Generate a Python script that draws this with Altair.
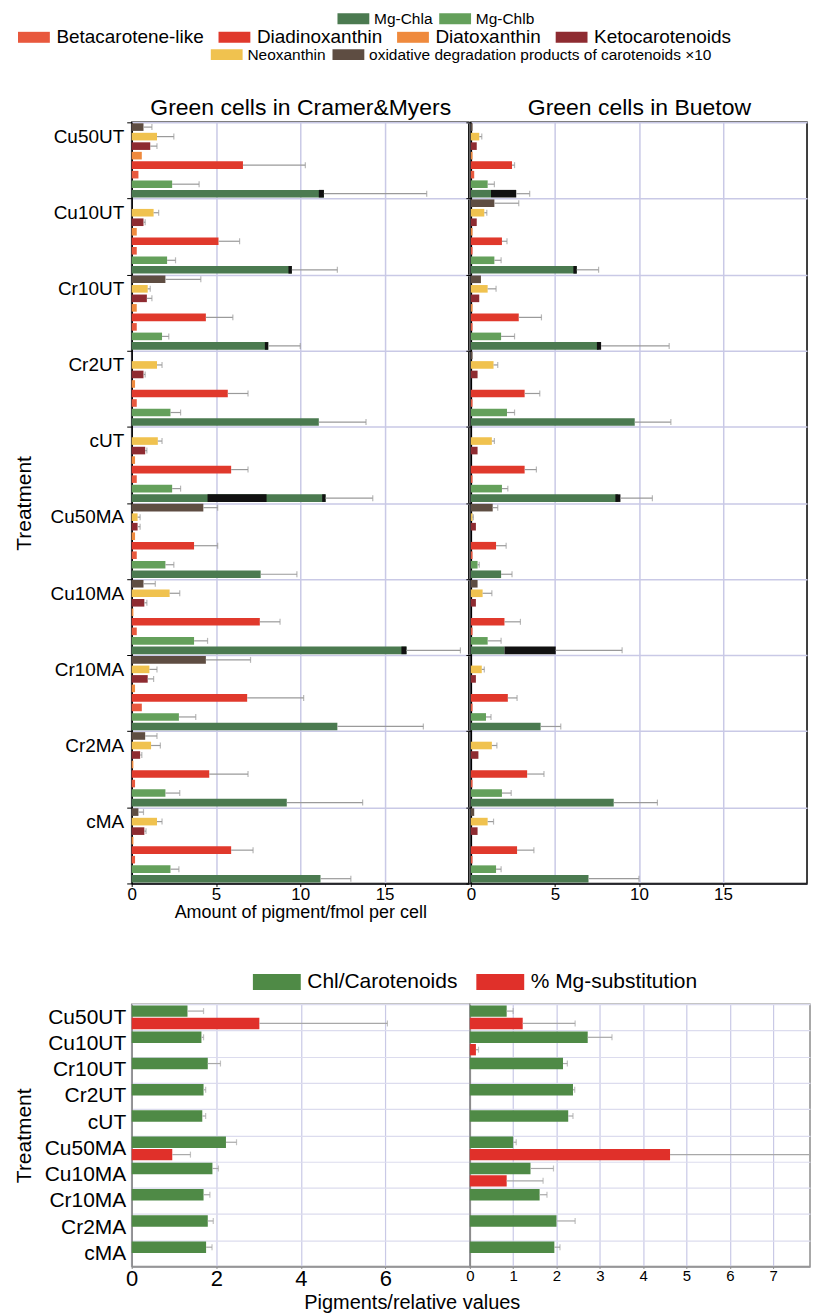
import altair as alt
import pandas as pd

FONT = "Liberation Sans"
GRID = "#c9c9e6"

treatments = ["Cu50UT", "Cu10UT", "Cr10UT", "Cr2UT", "cUT",
              "Cu50MA", "Cu10MA", "Cr10MA", "Cr2MA", "cMA"]

OXID = "oxidative degradation products of carotenoids ×10"
pigments = [OXID, "Neoxanthin", "Ketocarotenoids", "Diatoxanthin",
            "Diadinoxanthin", "Betacarotene-like", "Mg-Chlb", "Mg-Chla"]
pigment_colors = ["#5e4d42", "#f0c24f", "#8e2b31", "#ef8a3d",
                  "#e0392c", "#e8583d", "#64a05b", "#4b7a50"]

# ---- Green cells in Cramer&Myers (fmol per cell) ----
cm_chla = [11.4, 9.5, 8.1, 11.1, 11.5, 7.65, 16.3, 12.2, 9.2, 11.2]
cm_chla_err = [17.5, 12.2, 10.0, 13.9, 14.3, 9.8, 19.5, 17.3, 13.7, 13.0]
cm_chlb = [2.4, 2.1, 1.8, 2.3, 2.4, 2.0, 3.7, 2.8, 2.0, 2.3]
cm_chlb_err = [4.0, 2.6, 2.2, 2.9, 2.9, 2.5, 4.5, 3.8, 2.85, 2.8]
cm_diadino = [6.6, 5.15, 4.4, 5.7, 5.9, 3.7, 7.6, 6.85, 4.6, 5.9]
cm_diadino_err = [10.3, 6.4, 6.0, 6.9, 6.9, 5.1, 8.8, 10.2, 6.9, 7.2]
cm_beta = [0.4, 0.3, 0.3, 0.3, 0.3, 0.3, 0.3, 0.6, 0.2, 0.2]
cm_diato = [0.6, 0.3, 0.3, 0.2, 0.2, 0.2, 0.1, 0.2, 0.1, 0.1]
cm_keto = [1.1, 0.7, 0.9, 0.7, 0.8, 0.35, 0.75, 0.95, 0.5, 0.75]
cm_keto_err = [1.5, 0.8, 1.2, 0.8, 0.9, 0.5, 0.9, 1.3, 0.6, 0.85]
cm_neox = [1.5, 1.3, 0.95, 1.5, 1.55, 0.35, 2.25, 1.05, 1.15, 1.5]
cm_neox_err = [2.5, 1.6, 1.1, 1.8, 1.8, 0.5, 2.85, 1.5, 1.7, 1.8]
cm_oxid = [0.7, 0.0, 2.0, 0.0, 0.0, 4.25, 0.7, 4.4, 0.8, 0.4]
cm_oxid_err = [1.2, 0.0, 4.1, 0.0, 0.0, 5.1, 1.4, 7.05, 1.5, 0.7]
# substituted (black) Chl a segments
cm_black_treat = ["Cu50UT", "Cu10UT", "Cr10UT", "cUT", "cUT", "Cu10MA"]
cm_black_from = [11.1, 9.3, 7.9, 4.5, 11.3, 16.0]
cm_black_to = [11.4, 9.5, 8.1, 8.0, 11.5, 16.3]

# ---- Green cells in Buetow ----
bu_chla = [1.2, 6.3, 7.6, 9.75, 8.75, 1.8, 2.0, 4.15, 8.5, 7.0]
bu_chla_err = [3.5, 7.6, 11.8, 11.9, 10.8, 2.45, 9.0, 5.35, 11.1, 10.0]
bu_chlb = [1.0, 1.4, 1.8, 2.15, 1.85, 0.4, 1.0, 0.9, 1.85, 1.5]
bu_chlb_err = [1.4, 1.8, 2.6, 2.6, 2.2, 0.5, 1.8, 1.2, 2.4, 1.8]
bu_diadino = [2.45, 1.85, 2.85, 3.2, 3.2, 1.5, 2.0, 2.2, 3.35, 2.75]
bu_diadino_err = [2.6, 2.15, 4.2, 4.1, 3.9, 2.1, 2.95, 2.75, 4.35, 3.75]
bu_beta = [0.2, 0.1, 0.1, 0.1, 0.1, 0.1, 0.1, 0.1, 0.1, 0.1]
bu_diato = [0.1, 0.1, 0.1, 0.0, 0.0, 0.0, 0.0, 0.0, 0.0, 0.0]
bu_keto = [0.35, 0.35, 0.5, 0.4, 0.4, 0.3, 0.3, 0.3, 0.45, 0.4]
bu_neox = [0.5, 0.8, 1.0, 1.35, 1.25, 0.1, 0.7, 0.65, 1.25, 1.0]
bu_neox_err = [0.65, 0.95, 1.5, 1.6, 1.4, 0.15, 1.25, 0.8, 1.55, 1.35]
bu_oxid = [0.1, 1.4, 0.6, 0.1, 0.0, 1.3, 0.4, 0.0, 0.0, 0.2]
bu_oxid_err = [0.0, 2.85, 0.0, 0.0, 0.0, 1.6, 0.0, 0.0, 0.0, 0.0]
bu_black_treat = ["Cu50UT", "Cu10UT", "Cr10UT", "cUT", "Cu10MA"]
bu_black_from = [1.2, 6.1, 7.5, 8.6, 2.0]
bu_black_to = [2.7, 6.3, 7.75, 8.9, 5.05]

# ---- Bottom: Pigments / relative values ----
bottom_series = ["Chl/Carotenoids", "% Mg-substitution"]
bottom_colors = ["#4f8a46", "#e0302a"]
cm_ratio = [1.32, 1.65, 1.8, 1.7, 1.67, 2.23, 1.91, 1.7, 1.8, 1.76]
cm_ratio_err = [1.7, 1.7, 2.1, 1.75, 1.75, 2.48, 2.05, 1.85, 1.93, 1.9]
cm_mgsub = [3.02, 0, 0, 0, 0, 0.96, 0, 0, 0, 0]
cm_mgsub_err = [6.05, 0, 0, 0, 0, 1.39, 0, 0, 0, 0]
bu_ratio = [0.85, 2.72, 2.15, 2.38, 2.27, 1.0, 1.4, 1.61, 2.0, 1.95]
bu_ratio_err = [1.0, 3.28, 2.25, 2.42, 2.38, 1.07, 1.93, 1.78, 2.43, 2.08]
bu_mgsub = [1.22, 0.14, 0, 0, 0, 4.62, 0.85, 0, 0, 0]
bu_mgsub_err = [2.43, 0.2, 0, 0, 0, 7.85, 1.69, 0, 0, 0]

RECT_TOP = "M-2.9,-1L2.9,-1L2.9,1L-2.9,1Z"
RECT_BOT = "M-3,-1L3,-1L3,1L-3,1Z"


def legend_layer(labels, colors, lx, ly, path, size, symoff, laboff, font, colpad):
    return alt.Chart(pd.DataFrame({"k": labels})).mark_square(opacity=0).encode(
        color=alt.Color("k:N", scale=alt.Scale(domain=labels, range=colors),
                        legend=alt.Legend(orient="none", legendX=lx, legendY=ly,
                                          direction="horizontal", title=None,
                                          symbolType=path, symbolSize=size,
                                          symbolOpacity=1, symbolStrokeWidth=0,
                                          symbolOffset=symoff, labelOffset=laboff,
                                          labelFontSize=font, labelLimit=700,
                                          columnPadding=colpad)))


def frames(vals, errs, btreat=(), bfrom=(), bto=()):
    tip = {}
    blk = []
    for t, a, b in zip(btreat, bfrom, bto):
        blk.append({"treatment": t, "pigment": "Mg-Chla", "x0": a, "x1": b})
        tip[t] = max(tip.get(t, 0), b)
    bars, err = [], []
    for pig, series in vals.items():
        for t, v in zip(treatments, series):
            if v > 0:
                bars.append({"treatment": t, "pigment": pig, "value": v})
    for pig, series in errs.items():
        for i, (t, e) in enumerate(zip(treatments, series)):
            base = vals[pig][i]
            if pig == "Mg-Chla":
                base = max(base, tip.get(t, 0))
            if e > base:
                err.append({"treatment": t, "pigment": pig, "base": base, "err": e})
    return pd.DataFrame(bars), pd.DataFrame(err), pd.DataFrame(blk)


def top_panel(vals, errs, blk_args, title, first, width, legends=()):
    bars, err, blk = frames(vals, errs, *blk_args)
    ykw = dict(labels=first, tickBand="extent", ticks=True, tickSize=5,
               tickColor="black", domainColor="black", domainWidth=1.5,
               grid=True, gridColor=GRID, gridWidth=1.5)
    if first:
        ykw.update(title="Treatment", labelFontSize=19, labelOffset=-24,
                   labelPadding=3, minExtent=90, maxExtent=90,
                   titleFontSize=21, titlePadding=7)
    else:
        ykw.update(title=None)
    yaxis = alt.Axis(**ykw)
    xkw = dict(values=[0, 5, 10, 15], grid=True, gridColor=GRID, gridWidth=1.5,
               labelFontSize=17, labelPadding=0, tickSize=3, tickColor="black",
               domainColor="black", domainWidth=1.5, labelFlush=False)
    if first:
        xkw.update(title="Amount of pigment/fmol per cell", titleFontSize=18,
                   titlePadding=1)
    else:
        xkw.update(title=None)
    xaxis = alt.Axis(**xkw)
    # top axis used only to carry the panel title
    taxis = alt.Axis(orient="top", labels=False, ticks=False, domain=False, grid=False,
                     title=title, titleFontSize=23, titlePadding=3,
                     minExtent=0, maxExtent=0)
    xscale = alt.Scale(domain=[0, 20], nice=False)

    def Y():
        return alt.Y("treatment:N",
                     scale=alt.Scale(domain=treatments, paddingInner=0, paddingOuter=0),
                     axis=yaxis)

    def YO():
        return alt.YOffset("pigment:N",
                           scale=alt.Scale(domain=pigments, paddingInner=0.2,
                                           paddingOuter=0.1))

    b = alt.Chart(bars).mark_bar().encode(
        x=alt.X("value:Q", scale=xscale, axis=xaxis),
        y=Y(), yOffset=YO(),
        color=alt.Color("pigment:N",
                        scale=alt.Scale(domain=pigments, range=pigment_colors),
                        legend=None))
    k = alt.Chart(blk).mark_bar(color="#111111").encode(
        x=alt.X("x0:Q", scale=xscale, axis=None), x2="x1:Q",
        y=Y(), yOffset=YO())
    r = alt.Chart(err).mark_rule(color="#9a9a9a", strokeWidth=1.2).encode(
        x=alt.X("base:Q", scale=xscale, axis=None), x2="err:Q",
        y=Y(), yOffset=YO())
    c = alt.Chart(err).mark_tick(color="#9a9a9a", size=6, thickness=1.2,
                                 orient="vertical").encode(
        x=alt.X("err:Q", scale=xscale, axis=taxis),
        y=Y(), yOffset=YO())
    return alt.layer(b, k, r, c, *legends).resolve_scale(
        color="independent").resolve_axis(x="independent").properties(
        width=width, height=763,
        view=alt.ViewBackground(stroke="black", strokeWidth=1.5))


def bottom_panel(ratio, ratio_err, mg, mg_err, first, width, domain_max, ticks,
                 tick_font, legends=()):
    vals = {"Chl/Carotenoids": ratio, "% Mg-substitution": mg}
    rows, err = [], []
    for s, series in vals.items():
        for t, v in zip(treatments, series):
            if v > 0:
                rows.append({"treatment": t, "series": s, "value": v})
    for s, series, es in [("Chl/Carotenoids", ratio, ratio_err),
                          ("% Mg-substitution", mg, mg_err)]:
        for t, v, e in zip(treatments, series, es):
            if e > v:
                err.append({"treatment": t, "series": s, "base": v, "err": e})
    rows, err = pd.DataFrame(rows), pd.DataFrame(err)
    ykw = dict(labels=first, tickBand="extent", ticks=False,
               domainColor="#8c8c8c", domainWidth=1.5,
               grid=True, gridColor="#dcdcee", gridWidth=1.2)
    if first:
        ykw.update(title="Treatment", labelFontSize=21, labelPadding=6,
                   minExtent=90, maxExtent=90, titleFontSize=21, titlePadding=7)
    else:
        ykw.update(title=None)
    yaxis = alt.Axis(**ykw)
    xaxis = alt.Axis(values=ticks, grid=True, gridColor=GRID, gridWidth=1.2,
                     labelFontSize=tick_font, labelPadding=0, tickSize=2,
                     tickColor="#8c8c8c", domainColor="#8c8c8c", domainWidth=1.5,
                     labelFlush=False, title=None)
    xscale = alt.Scale(domain=[0, domain_max], nice=False)

    def Y():
        return alt.Y("treatment:N",
                     scale=alt.Scale(domain=treatments, paddingInner=0, paddingOuter=0),
                     axis=yaxis)

    def YO():
        return alt.YOffset("series:N",
                           scale=alt.Scale(domain=bottom_series, paddingInner=0.08,
                                           paddingOuter=0.1))

    b = alt.Chart(rows).mark_bar().encode(
        x=alt.X("value:Q", scale=xscale, axis=xaxis), y=Y(), yOffset=YO(),
        color=alt.Color("series:N",
                        scale=alt.Scale(domain=bottom_series, range=bottom_colors),
                        legend=None))
    r = alt.Chart(err).mark_rule(color="#a8a8a8", strokeWidth=1.2).encode(
        x=alt.X("base:Q", scale=xscale, axis=xaxis), x2="err:Q",
        y=Y(), yOffset=YO())
    c = alt.Chart(err).mark_tick(color="#a8a8a8", size=6, thickness=1.2,
                                 orient="vertical").encode(
        x=alt.X("err:Q", scale=xscale, axis=xaxis), y=Y(), yOffset=YO())
    return alt.layer(b, r, c, *legends).resolve_scale(color="independent").properties(
        width=width, height=263,
        view=alt.ViewBackground(stroke="#8c8c8c", strokeWidth=1.5))


# legends (positions relative to the left plot origins)
leg1 = legend_layer(["Mg-Chla", "Mg-Chlb"], ["#4b7a50", "#64a05b"],
                    204, -112, RECT_TOP, 121, 10.5, 13, 15.5, 4)
leg2 = legend_layer(["Betacarotene-like", "Diadinoxanthin", "Diatoxanthin", "Ketocarotenoids"],
                    ["#e8583d", "#e0392c", "#ef8a3d", "#8e2b31"],
                    -118, -95, RECT_TOP, 121, 10.5, 13, 19, 10)
leg3 = legend_layer(["Neoxanthin", OXID], ["#f0c24f", "#5e4d42"],
                    77, -76, RECT_TOP, 121, 10.5, 13, 15.5, 4)
legb = legend_layer(bottom_series, bottom_colors, 119, -33, RECT_BOT, 256, 16, 20, 21, 16)

cm_vals = {OXID: cm_oxid, "Neoxanthin": cm_neox, "Ketocarotenoids": cm_keto,
           "Diatoxanthin": cm_diato, "Diadinoxanthin": cm_diadino,
           "Betacarotene-like": cm_beta, "Mg-Chlb": cm_chlb, "Mg-Chla": cm_chla}
cm_errs = {OXID: cm_oxid_err, "Neoxanthin": cm_neox_err, "Ketocarotenoids": cm_keto_err,
           "Diadinoxanthin": cm_diadino_err, "Mg-Chlb": cm_chlb_err, "Mg-Chla": cm_chla_err}
bu_vals = {OXID: bu_oxid, "Neoxanthin": bu_neox, "Ketocarotenoids": bu_keto,
           "Diatoxanthin": bu_diato, "Diadinoxanthin": bu_diadino,
           "Betacarotene-like": bu_beta, "Mg-Chlb": bu_chlb, "Mg-Chla": bu_chla}
bu_errs = {OXID: bu_oxid_err, "Neoxanthin": bu_neox_err,
           "Diadinoxanthin": bu_diadino_err, "Mg-Chlb": bu_chlb_err, "Mg-Chla": bu_chla_err}

top_left = top_panel(cm_vals, cm_errs, (cm_black_treat, cm_black_from, cm_black_to),
                     "Green cells in Cramer&Myers", True, 338, (leg1, leg2, leg3))
top_right = top_panel(bu_vals, bu_errs, (bu_black_treat, bu_black_from, bu_black_to),
                      "Green cells in Buetow", False, 337)
top = alt.hconcat(top_left, top_right, spacing=2, bounds="flush").resolve_scale(
    color="independent")

bot_left = bottom_panel(cm_ratio, cm_ratio_err, cm_mgsub, cm_mgsub_err, True, 339,
                        8, [0, 2, 4, 6], 22, (legb,))
bot_right = bottom_panel(bu_ratio, bu_ratio_err, bu_mgsub, bu_mgsub_err, False, 341,
                         7.85, [0, 1, 2, 3, 4, 5, 6, 7], 15)
bottom = alt.hconcat(bot_left, bot_right, spacing=0, bounds="flush",
                     title=alt.TitleParams("Pigments/relative values", orient="bottom",
                                           anchor="middle", fontSize=20, offset=3,
                                           fontWeight="normal")).resolve_scale(
    color="independent")

chart = alt.vconcat(top, bottom, spacing=48).resolve_scale(
    color="independent", yOffset="independent", x="independent", y="independent"
).properties(
    padding={"left": 5, "top": 0, "right": 0, "bottom": 0}
).configure(font=FONT).configure_axis(
    labelFont=FONT, titleFont=FONT, labelColor="black", titleColor="black",
    titleFontWeight="normal"
).configure_legend(labelFont=FONT, labelColor="black").configure_title(
    font=FONT, color="black", fontWeight="normal"
).configure_view(strokeWidth=0)

chart.save("out.html", embed_options={"renderer": "svg", "actions": False})
